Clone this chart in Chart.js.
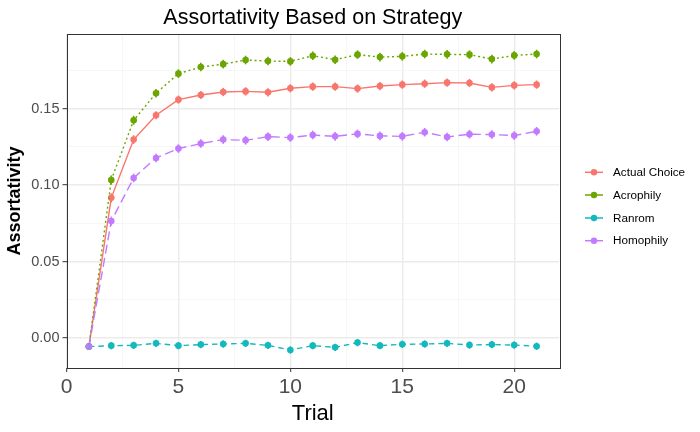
<!DOCTYPE html>
<html>
<head>
<meta charset="utf-8">
<script src="https://cdn.jsdelivr.net/npm/chart.js@4/dist/chart.umd.min.js"></script>
<style>
  html, body { margin: 0; padding: 0; background: #ffffff; }
  #wrap { width: 700px; height: 432px; }
</style>
</head>
<body>
<div id="wrap"><canvas id="c" width="700" height="432"></canvas></div>
<script>
// ---- data ----
const trials = [1,2,3,4,5,6,7,8,9,10,11,12,13,14,15,16,17,18,19,20,21];
const actualChoice = [-0.0056, 0.0916, 0.1297, 0.1456, 0.1558, 0.1588, 0.1608, 0.1612, 0.1606, 0.1632, 0.1643, 0.1643, 0.1630, 0.1647, 0.1656, 0.1662, 0.1669, 0.1667, 0.1638, 0.1651, 0.1656];
const acrophily    = [-0.0056, 0.1033, 0.1423, 0.1600, 0.1728, 0.1771, 0.1790, 0.1817, 0.1810, 0.1808, 0.1845, 0.1819, 0.1852, 0.1836, 0.1841, 0.1856, 0.1854, 0.1852, 0.1823, 0.1847, 0.1856];
const ranrom       = [-0.0056, -0.0050, -0.0048, -0.0035, -0.0050, -0.0043, -0.0039, -0.0035, -0.0048, -0.0078, -0.0050, -0.0061, -0.0030, -0.0050, -0.0041, -0.0039, -0.0035, -0.0046, -0.0043, -0.0046, -0.0054];
const homophily    = [-0.0056, 0.0764, 0.1046, 0.1177, 0.1238, 0.1271, 0.1297, 0.1292, 0.1316, 0.1310, 0.1327, 0.1318, 0.1334, 0.1321, 0.1318, 0.1345, 0.1314, 0.1332, 0.1330, 0.1323, 0.1351];
const errActual    = [0.0020, 0.0030, 0.0028, 0.0026, 0.0026, 0.0026, 0.0027, 0.0027, 0.0027, 0.0027, 0.0027, 0.0027, 0.0027, 0.0027, 0.0027, 0.0027, 0.0027, 0.0027, 0.0027, 0.0027, 0.0027];
const errAcrophily = [0.0020, 0.0030, 0.0029, 0.0028, 0.0028, 0.0028, 0.0028, 0.0028, 0.0028, 0.0028, 0.0028, 0.0028, 0.0028, 0.0028, 0.0028, 0.0028, 0.0028, 0.0028, 0.0028, 0.0028, 0.0028];
const errRanrom    = [0.0020, 0.0024, 0.0024, 0.0024, 0.0024, 0.0024, 0.0024, 0.0024, 0.0024, 0.0024, 0.0024, 0.0024, 0.0024, 0.0024, 0.0024, 0.0024, 0.0024, 0.0024, 0.0024, 0.0024, 0.0024];
const errHomophily = [0.0020, 0.0030, 0.0028, 0.0028, 0.0028, 0.0028, 0.0028, 0.0028, 0.0028, 0.0028, 0.0028, 0.0028, 0.0028, 0.0028, 0.0028, 0.0028, 0.0028, 0.0028, 0.0028, 0.0028, 0.0028];
const seriesNames = ['Actual Choice', 'Acrophily', 'Ranrom', 'Homophily'];
const xTickValues = [0, 2.5, 5, 7.5, 10, 12.5, 15, 17.5, 20];
const yTickValues = [0, 0.025, 0.05, 0.075, 0.10, 0.125, 0.15, 0.175];
const xLabelled = [0, 5, 10, 15, 20];
const yLabelled = [0, 0.05, 0.10, 0.15];

const colors = ['#F8766D', '#6BA600', '#13B9BD', '#C27AFF'];
const dashes = [[], [2, 2.8], [5.5, 4], [9, 4.5]];
const values = [actualChoice, acrophily, ranrom, homophily];
const errs = [errActual, errAcrophily, errRanrom, errHomophily];

const FONT = "'Liberation Sans', Arial, Helvetica, sans-serif";

const datasets = values.map((vals, i) => ({
  label: seriesNames[i],
  data: trials.map((t, k) => ({ x: t, y: vals[k] })),
  errors: errs[i],
  borderColor: colors[i],
  backgroundColor: colors[i],
  borderWidth: 1.4,
  borderDash: dashes[i],
  pointRadius: 3.3,
  pointBorderWidth: 0,
  pointHoverRadius: 3.3,
  tension: 0,
  order: 3 - i,
  clip: false
}));

const isIn = (arr, v) => arr.some(a => Math.abs(a - v) < 1e-9);

const errorBarPlugin = {
  id: 'errorBars',
  afterDatasetsDraw(chart) {
    const ctx = chart.ctx;
    const ys = chart.scales.y, xs = chart.scales.x;
    ctx.save();
    chart.data.datasets.forEach((ds) => {
      ctx.strokeStyle = ds.borderColor;
      ctx.lineWidth = 1.6;
      ctx.setLineDash([]);
      ds.data.forEach((p, k) => {
        const px = xs.getPixelForValue(p.x);
        const e = ds.errors[k];
        ctx.beginPath();
        ctx.moveTo(px, ys.getPixelForValue(p.y - e));
        ctx.lineTo(px, ys.getPixelForValue(p.y + e));
        ctx.stroke();
      });
    });
    ctx.restore();
  }
};

const framePlugin = {
  id: 'frameTitleLegend',
  afterDraw(chart) {
    const ctx = chart.ctx;
    const a = chart.chartArea;
    ctx.save();
    // panel border
    ctx.strokeStyle = '#333333';
    ctx.lineWidth = 1;
    ctx.setLineDash([]);
    ctx.strokeRect(Math.round(a.left) + 0.5, Math.round(a.top) + 0.5,
                   Math.round(a.right - a.left), Math.round(a.bottom - a.top));
    // title centred over panel
    ctx.fillStyle = '#000000';
    ctx.font = '21.5px ' + FONT;
    ctx.textAlign = 'center';
    ctx.textBaseline = 'alphabetic';
    ctx.fillText('Assortativity Based on Strategy', (a.left + a.right) / 2, 23.5);
    // legend
    ctx.font = '11.7px ' + FONT;
    ctx.textAlign = 'left';
    ctx.textBaseline = 'middle';
    const rowY = [172.3, 195, 218, 240.7];
    seriesNames.forEach((name, i) => {
      const y = rowY[i];
      ctx.strokeStyle = colors[i];
      ctx.lineWidth = 1.5;
      ctx.beginPath();
      ctx.moveTo(585, y);
      ctx.lineTo(603, y);
      ctx.stroke();
      ctx.fillStyle = colors[i];
      ctx.beginPath();
      ctx.arc(594, y, 3.2, 0, Math.PI * 2);
      ctx.fill();
      ctx.fillStyle = '#000000';
      ctx.fillText(name, 613, y + 0.5);
    });
    ctx.restore();
  }
};

new Chart(document.getElementById('c'), {
  type: 'line',
  data: { datasets },
  options: {
    responsive: false,
    animation: false,
    devicePixelRatio: 1,
    layout: { padding: { left: 0, right: 141, top: 34, bottom: 0 } },
    plugins: { legend: { display: false }, title: { display: false }, tooltip: { enabled: false } },
    scales: {
      x: {
        type: 'linear',
        min: 0,
        max: 22,
        afterFit(scale) { scale.height = 64; },
        afterBuildTicks(scale) { scale.ticks = xTickValues.map(v => ({ value: v })); },
        border: { display: false },
        grid: {
          color: (c) => isIn(xLabelled, c.tick.value) ? '#EBEBEB' : '#F4F4F4',
          lineWidth: (c) => isIn(xLabelled, c.tick.value) ? 1.4 : 0.8,
          tickColor: (c) => isIn(xLabelled, c.tick.value) ? '#333333' : 'rgba(0,0,0,0)',
          tickWidth: 1,
          tickLength: 4,
          drawTicks: true
        },
        ticks: {
          autoSkip: false,
          maxRotation: 0,
          padding: 3,
          color: '#4D4D4D',
          font: { family: FONT, size: 21 },
          callback: (v) => isIn(xLabelled, v) ? String(v) : ''
        },
        title: {
          display: true,
          text: 'Trial',
          color: '#000000',
          font: { family: FONT, size: 22 },
          padding: { top: 0, bottom: 5 }
        }
      },
      y: {
        type: 'linear',
        min: -0.0196,
        max: 0.1987,
        afterFit(scale) { scale.width = 66.5; },
        afterBuildTicks(scale) { scale.ticks = yTickValues.map(v => ({ value: v })); },
        border: { display: false },
        grid: {
          color: (c) => isIn(yLabelled, c.tick.value) ? '#EBEBEB' : '#F4F4F4',
          lineWidth: (c) => isIn(yLabelled, c.tick.value) ? 1.4 : 0.8,
          tickColor: (c) => isIn(yLabelled, c.tick.value) ? '#333333' : 'rgba(0,0,0,0)',
          tickWidth: 1,
          tickLength: 4,
          drawTicks: true
        },
        ticks: {
          autoSkip: false,
          padding: 3,
          color: '#4D4D4D',
          font: { family: FONT, size: 14.5 },
          callback: (v) => isIn(yLabelled, v) ? v.toFixed(2) : ''
        },
        title: {
          display: true,
          text: 'Assortativity',
          color: '#000000',
          font: { family: FONT, size: 18, weight: 'bold' },
          padding: { top: 4, bottom: 0 }
        }
      }
    }
  },
  plugins: [errorBarPlugin, framePlugin]
});
</script>
</body>
</html>
